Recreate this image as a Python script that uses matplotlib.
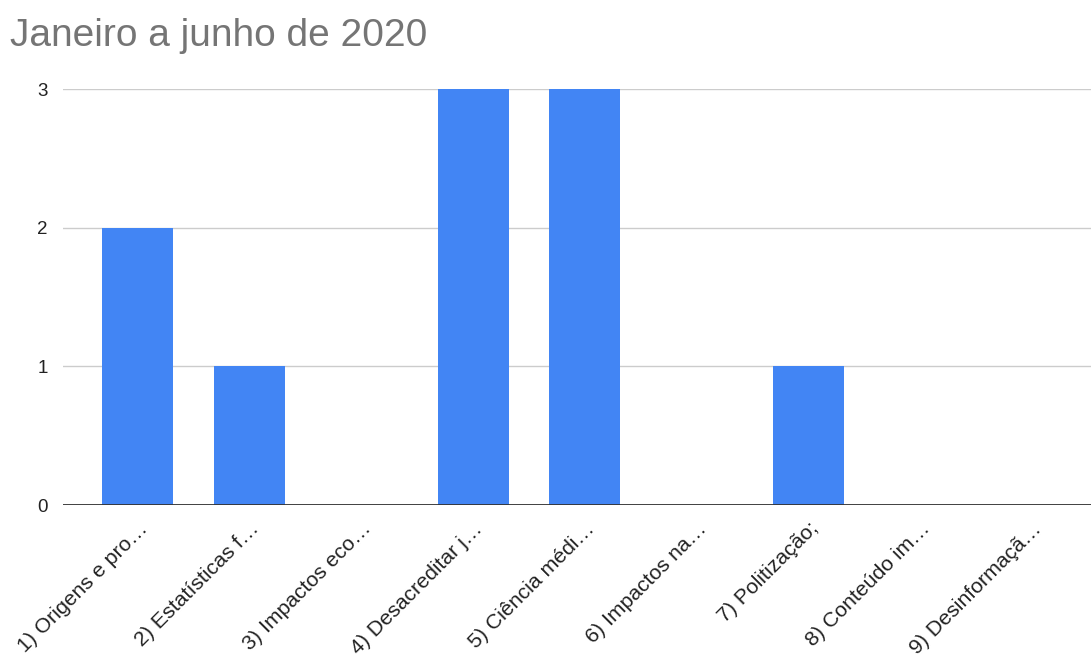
import matplotlib
matplotlib.use("Agg")
import matplotlib.pyplot as plt

categories = ["1) Origens e pro…", "2) Estatísticas f…", "3) Impactos eco…",
              "4) Desacreditar j…", "5) Ciência médi…", "6) Impactos na…",
              "7) Politização;", "8) Conteúdo im…", "9) Desinformaçã…"]
values = [2, 1, 0, 3, 3, 0, 1, 0, 0]
yticks = [0, 1, 2, 3]
title = "Janeiro a junho de 2020"

plt.rcParams['font.family'] = ['Liberation Sans', 'DejaVu Sans']

fig = plt.figure(figsize=(10.91, 6.64), dpi=100)
ax = fig.add_axes([63/1091, 159/664, 1028/1091, 416/664])
x = list(range(len(categories)))
ax.bar(x, values, width=0.635, color="#4285F4", zorder=3)
ax.set_xlim(-0.671, 8.53)
ax.set_ylim(0, 3)
ax.set_yticks(yticks)
ax.set_yticklabels([str(v) for v in yticks], fontsize=13.5, color="#222222")
ax.yaxis.grid(True, color="#cccccc", linewidth=1, zorder=0)
ax.axhline(0, color="#333333", linewidth=1.3, zorder=4)
for s in ax.spines.values():
    s.set_visible(False)
ax.tick_params(axis='y', length=0, pad=11)
ax.tick_params(axis='x', length=0, pad=10)
ax.set_xticks(x)
ax.set_xticklabels(categories, rotation=45, ha='right', rotation_mode='anchor',
                   fontsize=15.3, color="#222222")
fig.text(10/1091, 1 - 46/664, title, fontsize=28, color="#757575", ha='left', va='baseline')
fig.savefig("out.png", dpi=100)
